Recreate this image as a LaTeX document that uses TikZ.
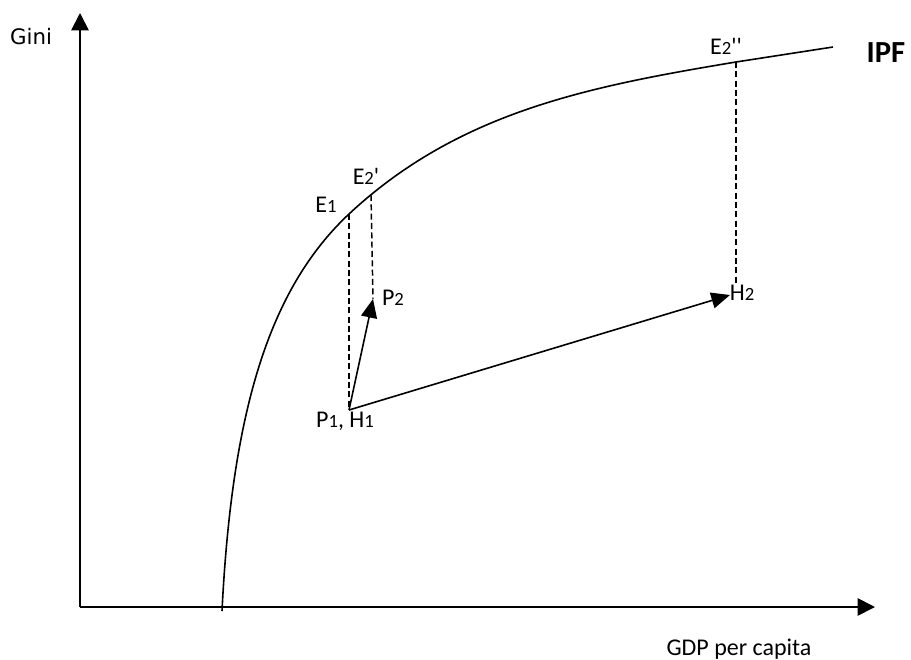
\documentclass[tikz,border=0pt]{standalone}
\usepackage{fontspec}
\setmainfont{Carlito}
\newfontfamily\ginifont{DejaVu Sans}
\usetikzlibrary{arrows.meta, positioning}
\newcommand{\ix}[1]{{\fontsize{14}{14}\selectfont #1}}
\newcommand{\prm}{\textquotesingle}

\begin{document}
\begin{tikzpicture}[x=0.75pt, y=-0.75pt,
  axis/.style={line width=1.3pt, -{Triangle[length=13pt, width=13pt]}},
  move/.style={line width=1.2pt, -{Triangle[length=14pt, width=12pt]}},
  drop/.style={line width=1.1pt, dash pattern=on 4.5pt off 2.5pt},
  lbl/.style={font=\fontsize{18}{18}\selectfont, inner sep=0pt, anchor=base}
]
  \useasboundingbox (0,0) rectangle (911,660);

  % Axes
  \coordinate (origin) at (80,607);
  \coordinate (ytip) at (80,13);
  \coordinate (xtip) at (875,607);
  \draw[axis] (origin) -- (ytip);
  \draw[axis] (origin) -- (xtip);
  \node[inner sep=0pt, anchor=base, font=\ginifont\fontsize{16}{16}\selectfont] (gini) at (31,45) {Gini};
  \node[lbl] (gdp) at (739,655) {GDP per capita};

  % Frontier
  \coordinate (ipfstart) at (222,611);
  \coordinate (e1) at (349,214);
  \coordinate (e2a) at (371,195);
  \coordinate (e2b) at (736,62);
  \coordinate (ipfend) at (833,47);
  \draw[line width=1.2pt] (ipfstart) .. controls (232,411) and (269,289) .. (e1)
    .. controls (458.5,112) and (588,86.6) .. (e2b) -- (ipfend);
  \node[inner sep=0pt, anchor=base, font=\fontsize{23}{23}\selectfont\bfseries] (ipf) at (886,63) {IPF};

  % Points
  \coordinate (p1) at (349,410);
  \coordinate (p2) at (373,299);
  \coordinate (h2) at (730,295);
  \coordinate (h2top) at (736,283);
  \node[lbl] (le1) at (326,212) {E\ix{1}};
  \node[lbl] (le2a) at (366,185) {E\ix{2}\prm};
  \node[lbl] (le2b) at (726,55) {E\ix{2}\prm\prm};
  \node[lbl] (lp2) at (393,305) {P\ix{2}};
  \node[lbl] (lh2) at (742,300) {H\ix{2}};
  \node[lbl] (lp1) at (345,427) {P\ix{1}, H\ix{1}};

  % Moves
  \draw[move] (p1) -- (p2);
  \draw[move] (p1) -- (h2);

  % Drops to the frontier
  \draw[drop] (e1) -- (p1);
  \draw[drop] (e2a) -- (p2);
  \draw[drop] (e2b) -- (h2top);
\end{tikzpicture}
\end{document}
